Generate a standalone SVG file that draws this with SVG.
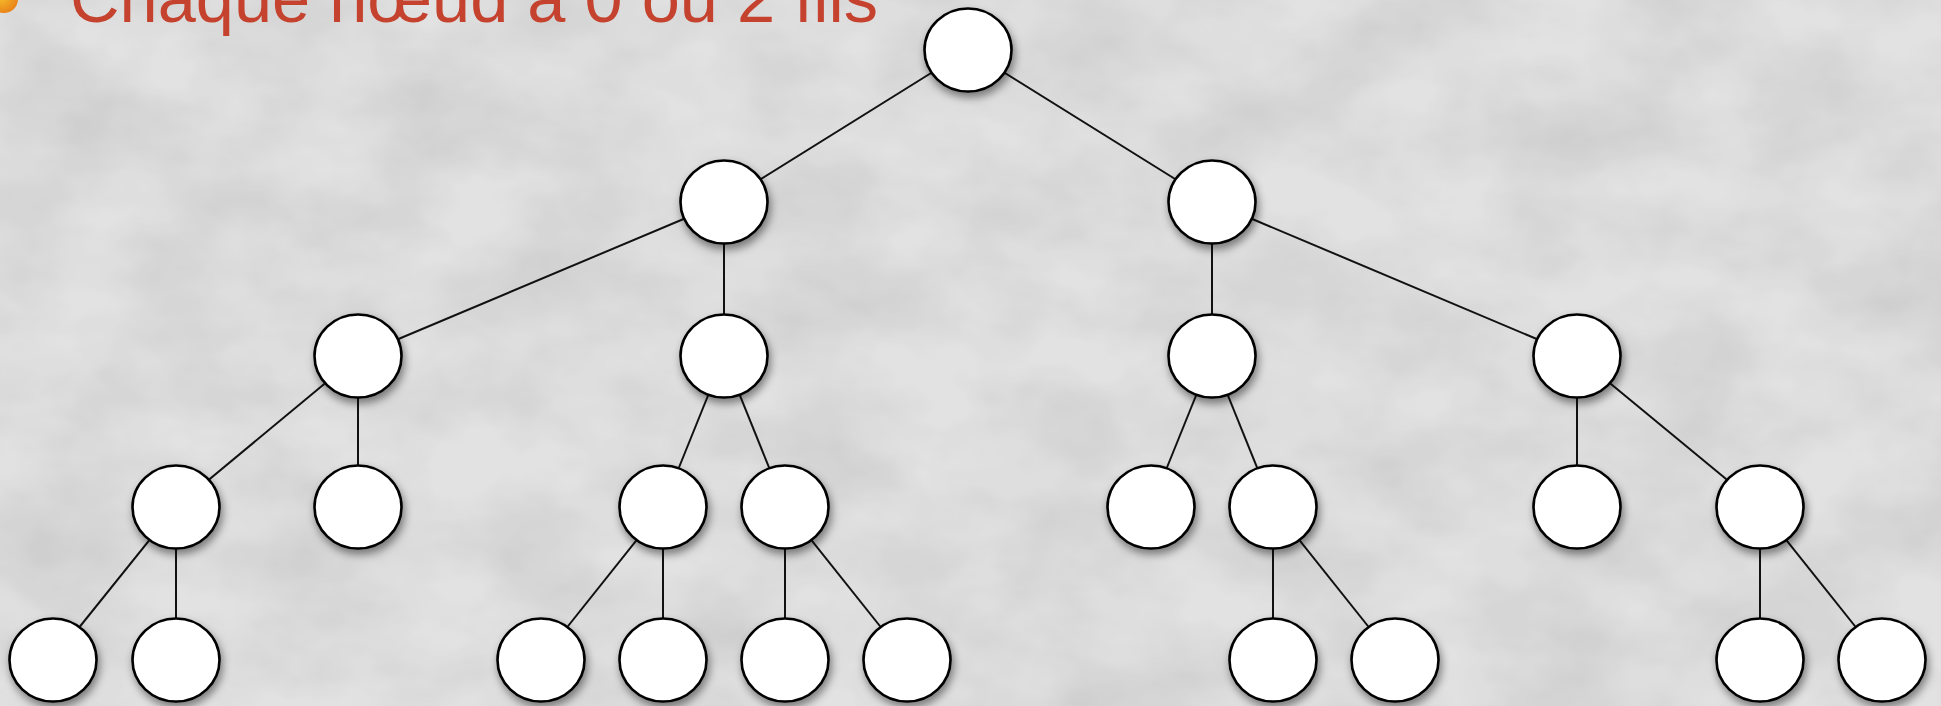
<svg xmlns="http://www.w3.org/2000/svg" width="1941" height="706" viewBox="0 0 1941 706">
<defs>
<style>
.n{fill:#fff;stroke:#000;stroke-width:2.6;filter:url(#sh)}
.e{stroke:#111;stroke-width:2;fill:none}
.t{font-family:"Liberation Sans",Arial,sans-serif;font-size:68px;fill:#c5432e}
</style>
<filter id="sh" x="-30%" y="-30%" width="160%" height="170%">
<feDropShadow dx="2" dy="5" stdDeviation="4" flood-color="#000" flood-opacity="0.45"/>
</filter>
<filter id="paper" x="0" y="0" width="100%" height="100%">
<feTurbulence type="fractalNoise" baseFrequency="0.008 0.012" numOctaves="4" seed="3" result="n"/>
<feColorMatrix in="n" type="matrix" values="0 0 0 0 0  0 0 0 0 0  0 0 0 0 0  0.14 0 0 0 -0.04" result="d"/>
<feComposite in="d" in2="SourceGraphic" operator="in"/>
</filter>
<radialGradient id="bul" cx="0.4" cy="0.4" r="0.6">
<stop offset="0" stop-color="#f7c12c"/>
<stop offset="1" stop-color="#e9861a"/>
</radialGradient>
</defs>
<rect width="1941" height="706" fill="#e2e2e2"/>
<rect width="1941" height="706" fill="#000" filter="url(#paper)"/>
<g id="title">
<circle cx="4" cy="-1" r="14" fill="url(#bul)"/>
<text class="t" x="70" y="22" textLength="808" lengthAdjust="spacingAndGlyphs">Chaque nœud a 0 ou 2 fils</text>
</g>
<g id="edges">
<line class="e" x1="968" y1="50" x2="724" y2="202"/>
<line class="e" x1="968" y1="50" x2="1212" y2="202"/>
<line class="e" x1="724" y1="202" x2="358" y2="356"/>
<line class="e" x1="724" y1="202" x2="724" y2="356"/>
<line class="e" x1="1212" y1="202" x2="1212" y2="356"/>
<line class="e" x1="1212" y1="202" x2="1577" y2="356"/>
<line class="e" x1="358" y1="356" x2="176" y2="507"/>
<line class="e" x1="358" y1="356" x2="358" y2="507"/>
<line class="e" x1="724" y1="356" x2="663" y2="507"/>
<line class="e" x1="724" y1="356" x2="785" y2="507"/>
<line class="e" x1="1212" y1="356" x2="1151" y2="507"/>
<line class="e" x1="1212" y1="356" x2="1273" y2="507"/>
<line class="e" x1="1577" y1="356" x2="1577" y2="507"/>
<line class="e" x1="1577" y1="356" x2="1760" y2="507"/>
<line class="e" x1="176" y1="507" x2="53" y2="660"/>
<line class="e" x1="176" y1="507" x2="176" y2="660"/>
<line class="e" x1="663" y1="507" x2="541" y2="660"/>
<line class="e" x1="663" y1="507" x2="663" y2="660"/>
<line class="e" x1="785" y1="507" x2="785" y2="660"/>
<line class="e" x1="785" y1="507" x2="907" y2="660"/>
<line class="e" x1="1273" y1="507" x2="1273" y2="660"/>
<line class="e" x1="1273" y1="507" x2="1395" y2="660"/>
<line class="e" x1="1760" y1="507" x2="1760" y2="660"/>
<line class="e" x1="1760" y1="507" x2="1882" y2="660"/>
</g>
<g id="n0"><ellipse class="n" cx="968" cy="50" rx="43.5" ry="41.5"/></g>
<g id="n1"><ellipse class="n" cx="724" cy="202" rx="43.5" ry="41.5"/></g>
<g id="n2"><ellipse class="n" cx="1212" cy="202" rx="43.5" ry="41.5"/></g>
<g id="n3"><ellipse class="n" cx="358" cy="356" rx="43.5" ry="41.5"/></g>
<g id="n4"><ellipse class="n" cx="724" cy="356" rx="43.5" ry="41.5"/></g>
<g id="n5"><ellipse class="n" cx="1212" cy="356" rx="43.5" ry="41.5"/></g>
<g id="n6"><ellipse class="n" cx="1577" cy="356" rx="43.5" ry="41.5"/></g>
<g id="n7"><ellipse class="n" cx="176" cy="507" rx="43.5" ry="41.5"/></g>
<g id="n8"><ellipse class="n" cx="358" cy="507" rx="43.5" ry="41.5"/></g>
<g id="n9"><ellipse class="n" cx="663" cy="507" rx="43.5" ry="41.5"/></g>
<g id="n10"><ellipse class="n" cx="785" cy="507" rx="43.5" ry="41.5"/></g>
<g id="n11"><ellipse class="n" cx="1151" cy="507" rx="43.5" ry="41.5"/></g>
<g id="n12"><ellipse class="n" cx="1273" cy="507" rx="43.5" ry="41.5"/></g>
<g id="n13"><ellipse class="n" cx="1577" cy="507" rx="43.5" ry="41.5"/></g>
<g id="n14"><ellipse class="n" cx="1760" cy="507" rx="43.5" ry="41.5"/></g>
<g id="n15"><ellipse class="n" cx="53" cy="660" rx="43.5" ry="41.5"/></g>
<g id="n16"><ellipse class="n" cx="176" cy="660" rx="43.5" ry="41.5"/></g>
<g id="n17"><ellipse class="n" cx="541" cy="660" rx="43.5" ry="41.5"/></g>
<g id="n18"><ellipse class="n" cx="663" cy="660" rx="43.5" ry="41.5"/></g>
<g id="n19"><ellipse class="n" cx="785" cy="660" rx="43.5" ry="41.5"/></g>
<g id="n20"><ellipse class="n" cx="907" cy="660" rx="43.5" ry="41.5"/></g>
<g id="n21"><ellipse class="n" cx="1273" cy="660" rx="43.5" ry="41.5"/></g>
<g id="n22"><ellipse class="n" cx="1395" cy="660" rx="43.5" ry="41.5"/></g>
<g id="n23"><ellipse class="n" cx="1760" cy="660" rx="43.5" ry="41.5"/></g>
<g id="n24"><ellipse class="n" cx="1882" cy="660" rx="43.5" ry="41.5"/></g>
</svg>
